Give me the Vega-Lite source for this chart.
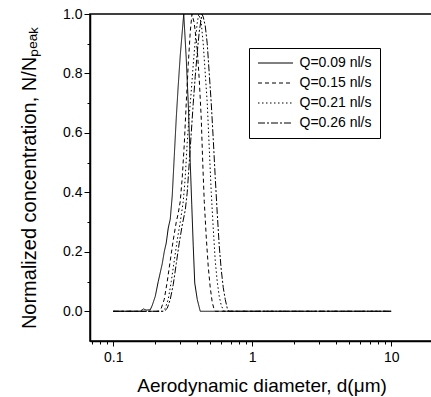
{
  "$schema": "https://vega.github.io/schema/vega-lite/v6.json",
  "width": 343,
  "height": 327,
  "autosize": {"type": "none"},
  "padding": {"left": 90, "top": 14, "right": 0, "bottom": 56},
  "background": "white",
  "config": {
    "view": {"stroke": "black", "strokeWidth": 1.5},
    "font": "Liberation Sans",
    "axis": {
      "domainColor": "black", "domainWidth": 1.5, "tickColor": "black", "tickWidth": 1,
      "labelColor": "black", "titleColor": "black", "labelFontSize": 14, "titleFontSize": 19,
      "titleFontWeight": "normal", "grid": false, "labelFont": "Liberation Sans", "titleFont": "Liberation Sans"
    }
  },
  "data": {"values": [
    {"q": "Q=0.09 nl/s", "d": 0.1, "n": 0},
    {"q": "Q=0.09 nl/s", "d": 0.1564, "n": 0},
    {"q": "Q=0.09 nl/s", "d": 0.1644, "n": 0.008},
    {"q": "Q=0.09 nl/s", "d": 0.1727, "n": 0.004},
    {"q": "Q=0.09 nl/s", "d": 0.1846, "n": 0.005},
    {"q": "Q=0.09 nl/s", "d": 0.1908, "n": 0.02},
    {"q": "Q=0.09 nl/s", "d": 0.2005, "n": 0.05},
    {"q": "Q=0.09 nl/s", "d": 0.2107, "n": 0.1},
    {"q": "Q=0.09 nl/s", "d": 0.2251, "n": 0.16},
    {"q": "Q=0.09 nl/s", "d": 0.2327, "n": 0.2},
    {"q": "Q=0.09 nl/s", "d": 0.2406, "n": 0.23},
    {"q": "Q=0.09 nl/s", "d": 0.2487, "n": 0.28},
    {"q": "Q=0.09 nl/s", "d": 0.2571, "n": 0.31},
    {"q": "Q=0.09 nl/s", "d": 0.2658, "n": 0.39},
    {"q": "Q=0.09 nl/s", "d": 0.2747, "n": 0.52},
    {"q": "Q=0.09 nl/s", "d": 0.284, "n": 0.65},
    {"q": "Q=0.09 nl/s", "d": 0.2935, "n": 0.76},
    {"q": "Q=0.09 nl/s", "d": 0.3034, "n": 0.86},
    {"q": "Q=0.09 nl/s", "d": 0.3136, "n": 0.94},
    {"q": "Q=0.09 nl/s", "d": 0.3215, "n": 1.0},
    {"q": "Q=0.09 nl/s", "d": 0.3351, "n": 0.85},
    {"q": "Q=0.09 nl/s", "d": 0.3464, "n": 0.7},
    {"q": "Q=0.09 nl/s", "d": 0.3581, "n": 0.5},
    {"q": "Q=0.09 nl/s", "d": 0.3671, "n": 0.36},
    {"q": "Q=0.09 nl/s", "d": 0.3763, "n": 0.22},
    {"q": "Q=0.09 nl/s", "d": 0.3858, "n": 0.095},
    {"q": "Q=0.09 nl/s", "d": 0.4021, "n": 0.04},
    {"q": "Q=0.09 nl/s", "d": 0.4226, "n": 0},
    {"q": "Q=0.09 nl/s", "d": 10, "n": 0},

    {"q": "Q=0.15 nl/s", "d": 0.1, "n": 0},
    {"q": "Q=0.15 nl/s", "d": 0.2107, "n": 0},
    {"q": "Q=0.15 nl/s", "d": 0.2215, "n": 0.01},
    {"q": "Q=0.15 nl/s", "d": 0.2327, "n": 0.04},
    {"q": "Q=0.15 nl/s", "d": 0.2446, "n": 0.1},
    {"q": "Q=0.15 nl/s", "d": 0.2571, "n": 0.17},
    {"q": "Q=0.15 nl/s", "d": 0.2702, "n": 0.24},
    {"q": "Q=0.15 nl/s", "d": 0.284, "n": 0.3},
    {"q": "Q=0.15 nl/s", "d": 0.2935, "n": 0.33},
    {"q": "Q=0.15 nl/s", "d": 0.3034, "n": 0.37},
    {"q": "Q=0.15 nl/s", "d": 0.3136, "n": 0.45},
    {"q": "Q=0.15 nl/s", "d": 0.3242, "n": 0.56},
    {"q": "Q=0.15 nl/s", "d": 0.3351, "n": 0.7},
    {"q": "Q=0.15 nl/s", "d": 0.3464, "n": 0.83},
    {"q": "Q=0.15 nl/s", "d": 0.3581, "n": 0.94},
    {"q": "Q=0.15 nl/s", "d": 0.3683, "n": 1.0},
    {"q": "Q=0.15 nl/s", "d": 0.3826, "n": 0.97},
    {"q": "Q=0.15 nl/s", "d": 0.4021, "n": 0.88},
    {"q": "Q=0.15 nl/s", "d": 0.4156, "n": 0.78},
    {"q": "Q=0.15 nl/s", "d": 0.4296, "n": 0.65},
    {"q": "Q=0.15 nl/s", "d": 0.4404, "n": 0.5},
    {"q": "Q=0.15 nl/s", "d": 0.4516, "n": 0.37},
    {"q": "Q=0.15 nl/s", "d": 0.4668, "n": 0.25},
    {"q": "Q=0.15 nl/s", "d": 0.4825, "n": 0.15},
    {"q": "Q=0.15 nl/s", "d": 0.4987, "n": 0.08},
    {"q": "Q=0.15 nl/s", "d": 0.5155, "n": 0.03},
    {"q": "Q=0.15 nl/s", "d": 0.5329, "n": 0.005},
    {"q": "Q=0.15 nl/s", "d": 0.5418, "n": 0},
    {"q": "Q=0.15 nl/s", "d": 10, "n": 0},

    {"q": "Q=0.21 nl/s", "d": 0.1, "n": 0},
    {"q": "Q=0.21 nl/s", "d": 0.2251, "n": 0},
    {"q": "Q=0.21 nl/s", "d": 0.2366, "n": 0.01},
    {"q": "Q=0.21 nl/s", "d": 0.2487, "n": 0.04},
    {"q": "Q=0.21 nl/s", "d": 0.2614, "n": 0.1},
    {"q": "Q=0.21 nl/s", "d": 0.2747, "n": 0.17},
    {"q": "Q=0.21 nl/s", "d": 0.2887, "n": 0.24},
    {"q": "Q=0.21 nl/s", "d": 0.3034, "n": 0.3},
    {"q": "Q=0.21 nl/s", "d": 0.3189, "n": 0.37},
    {"q": "Q=0.21 nl/s", "d": 0.3296, "n": 0.45},
    {"q": "Q=0.21 nl/s", "d": 0.3407, "n": 0.57},
    {"q": "Q=0.21 nl/s", "d": 0.3522, "n": 0.66},
    {"q": "Q=0.21 nl/s", "d": 0.3641, "n": 0.74},
    {"q": "Q=0.21 nl/s", "d": 0.3763, "n": 0.83},
    {"q": "Q=0.21 nl/s", "d": 0.389, "n": 0.91},
    {"q": "Q=0.21 nl/s", "d": 0.4021, "n": 0.97},
    {"q": "Q=0.21 nl/s", "d": 0.4122, "n": 1.0},
    {"q": "Q=0.21 nl/s", "d": 0.4296, "n": 0.97},
    {"q": "Q=0.21 nl/s", "d": 0.4441, "n": 0.9},
    {"q": "Q=0.21 nl/s", "d": 0.4591, "n": 0.8},
    {"q": "Q=0.21 nl/s", "d": 0.4746, "n": 0.7},
    {"q": "Q=0.21 nl/s", "d": 0.4906, "n": 0.55},
    {"q": "Q=0.21 nl/s", "d": 0.5071, "n": 0.4},
    {"q": "Q=0.21 nl/s", "d": 0.5241, "n": 0.28},
    {"q": "Q=0.21 nl/s", "d": 0.5418, "n": 0.17},
    {"q": "Q=0.21 nl/s", "d": 0.56, "n": 0.1},
    {"q": "Q=0.21 nl/s", "d": 0.5789, "n": 0.05},
    {"q": "Q=0.21 nl/s", "d": 0.5984, "n": 0.02},
    {"q": "Q=0.21 nl/s", "d": 0.6186, "n": 0.005},
    {"q": "Q=0.21 nl/s", "d": 0.6289, "n": 0},
    {"q": "Q=0.21 nl/s", "d": 10, "n": 0},

    {"q": "Q=0.26 nl/s", "d": 0.1, "n": 0},
    {"q": "Q=0.26 nl/s", "d": 0.2327, "n": 0},
    {"q": "Q=0.26 nl/s", "d": 0.2446, "n": 0.01},
    {"q": "Q=0.26 nl/s", "d": 0.2571, "n": 0.04},
    {"q": "Q=0.26 nl/s", "d": 0.2702, "n": 0.09},
    {"q": "Q=0.26 nl/s", "d": 0.284, "n": 0.16},
    {"q": "Q=0.26 nl/s", "d": 0.2984, "n": 0.23},
    {"q": "Q=0.26 nl/s", "d": 0.3136, "n": 0.29},
    {"q": "Q=0.26 nl/s", "d": 0.3296, "n": 0.34},
    {"q": "Q=0.26 nl/s", "d": 0.3407, "n": 0.4},
    {"q": "Q=0.26 nl/s", "d": 0.3522, "n": 0.5},
    {"q": "Q=0.26 nl/s", "d": 0.3641, "n": 0.6},
    {"q": "Q=0.26 nl/s", "d": 0.3763, "n": 0.7},
    {"q": "Q=0.26 nl/s", "d": 0.389, "n": 0.79},
    {"q": "Q=0.26 nl/s", "d": 0.4021, "n": 0.87},
    {"q": "Q=0.26 nl/s", "d": 0.4156, "n": 0.94},
    {"q": "Q=0.26 nl/s", "d": 0.4346, "n": 1.0},
    {"q": "Q=0.26 nl/s", "d": 0.4441, "n": 0.99},
    {"q": "Q=0.26 nl/s", "d": 0.4591, "n": 0.96},
    {"q": "Q=0.26 nl/s", "d": 0.4746, "n": 0.9},
    {"q": "Q=0.26 nl/s", "d": 0.4906, "n": 0.8},
    {"q": "Q=0.26 nl/s", "d": 0.5071, "n": 0.7},
    {"q": "Q=0.26 nl/s", "d": 0.5241, "n": 0.58},
    {"q": "Q=0.26 nl/s", "d": 0.5418, "n": 0.45},
    {"q": "Q=0.26 nl/s", "d": 0.56, "n": 0.33},
    {"q": "Q=0.26 nl/s", "d": 0.5789, "n": 0.22},
    {"q": "Q=0.26 nl/s", "d": 0.5984, "n": 0.14},
    {"q": "Q=0.26 nl/s", "d": 0.6186, "n": 0.08},
    {"q": "Q=0.26 nl/s", "d": 0.6394, "n": 0.04},
    {"q": "Q=0.26 nl/s", "d": 0.661, "n": 0.01},
    {"q": "Q=0.26 nl/s", "d": 0.6776, "n": 0},
    {"q": "Q=0.26 nl/s", "d": 10, "n": 0}
  ]},
  "mark": {"type": "line", "strokeWidth": 1, "color": "black", "clip": true},
  "encoding": {
    "x": {
      "field": "d", "type": "quantitative",
      "scale": {"type": "log", "domain": [0.068, 20], "nice": false},
      "axis": {
        "title": "Aerodynamic diameter, d(μm)",
        "values": [0.07, 0.08, 0.09, 0.1, 0.2, 0.3, 0.4, 0.5, 0.6, 0.7, 0.8, 0.9, 1, 2, 3, 4, 5, 6, 7, 8, 9, 10, 20],
        "format": "~g",
        "labelExpr": "(datum.value == 0.1 || datum.value == 1 || datum.value == 10) ? datum.label : ''",
        "tickSize": {"condition": {"test": "datum.value == 0.1 || datum.value == 1 || datum.value == 10", "value": 5}, "value": 3},
        "labelPadding": 4,
        "labelFlush": false,
        "labelOverlap": false,
        "titlePadding": 12
      }
    },
    "y": {
      "field": "n", "type": "quantitative",
      "scale": {"domain": [-0.1, 1.0], "nice": false, "zero": false},
      "axis": {
        "title": "Normalized concentration, N/Nₚₑₐₖ",
        "titleFontSize": 20,
        "values": [0, 0.1, 0.2, 0.3, 0.4, 0.5, 0.6, 0.7, 0.8, 0.9, 1.0],
        "labelExpr": "round(datum.value * 10) % 2 == 0 ? format(datum.value, '.1f') : ''",
        "tickSize": {"condition": {"test": "round(datum.value * 10) % 2 == 0", "value": 6}, "value": 3},
        "labelPadding": 2,
        "labelOverlap": false,
        "labelFlush": false,
        "titlePadding": 23
      }
    },
    "strokeDash": {
      "field": "q", "type": "nominal",
      "scale": {
        "domain": ["Q=0.09 nl/s", "Q=0.15 nl/s", "Q=0.21 nl/s", "Q=0.26 nl/s"],
        "range": [[1, 0], [4, 3], [1.5, 2.5], [7, 2, 2, 2]]
      },
      "legend": {
        "title": null,
        "orient": "none",
        "legendX": 159,
        "legendY": 34,
        "symbolType": "M-3.5,0H3.5",
        "symbolSize": 100,
        "symbolOffset": 11.5,
        "symbolStrokeWidth": 1,
        "symbolStrokeColor": "black",
        "symbolFillColor": "transparent",
        "labelFontSize": 14,
        "labelFont": "Liberation Sans",
        "labelColor": "black",
        "labelOffset": 17,
        "labelLimit": 0,
        "padding": 8,
        "rowPadding": 6,
        "strokeColor": "black",
        "fillColor": "white"
      }
    }
  }
}
